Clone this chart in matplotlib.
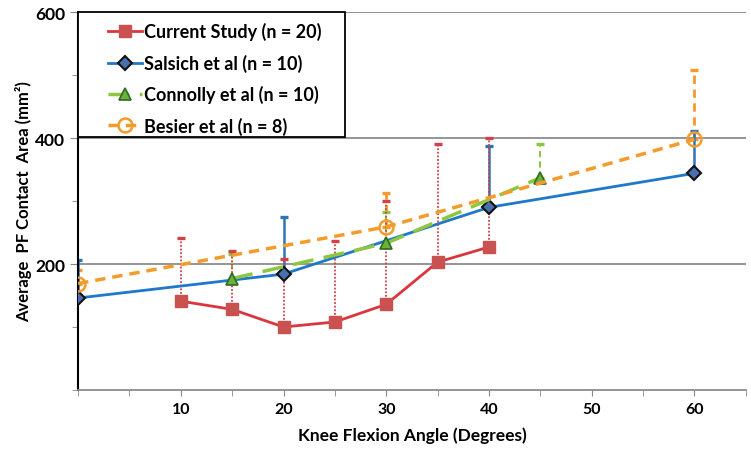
import numpy as np
import matplotlib
matplotlib.use("Agg")
import matplotlib.pyplot as plt
from matplotlib.patches import Rectangle
from matplotlib.ticker import MultipleLocator

plt.rcParams['font.family'] = ['Lato', 'DejaVu Sans']
plt.rcParams['font.weight'] = 'bold'

# ----------------------------
# Data
# ----------------------------
current_x = [10, 15, 20, 25, 30, 35, 40]
current_y = [141, 128, 100, 108, 136, 203, 227]
current_up = [242, 221, 208, 237, 300, 390, 400]

salsich_x = [0, 20, 40, 60]
salsich_y = [146, 184, 290, 344]
salsich_up = [207, 274, 388, 412]

connolly_x = [15, 30, 45]
connolly_y = [177, 233, 337]
connolly_up = [216, 283, 390]

besier_x = [0, 30, 60]
besier_y = [169, 259, 398]
besier_up = [191, 313, 508]

x_ticks = [10, 20, 30, 40, 50, 60]
y_ticks = [200, 400, 600]


def upper_bars(ax, x, y, up, color, ls, lw=1.3, z=2):
    y = np.asarray(y, float)
    err = np.asarray(up, float) - y
    eb = ax.errorbar(x, y, yerr=[np.zeros_like(err), err], fmt='none',
                     ecolor=color, elinewidth=lw, capsize=3, capthick=2.4, zorder=z)
    for lc in eb[2]:
        lc.set_linestyle(ls)
    return eb


fig = plt.figure(figsize=(7.51, 4.52), dpi=100)
ax = fig.add_axes([0.104, 0.135, 0.889, 0.836])

# error bars (upper only)
upper_bars(ax, besier_x, besier_y, besier_up, '#F39B2B', (0, (3, 2)), lw=2.0, z=2)
upper_bars(ax, connolly_x, connolly_y, connolly_up, '#8DC63F', (0, (3, 2)), lw=1.5, z=2)
upper_bars(ax, salsich_x, salsich_y, salsich_up, '#2E75B6', '-', lw=1.8, z=2)
upper_bars(ax, current_x, current_y, current_up, '#D2414A', (0, (1, 1)), lw=1.3, z=3)

# series
ax.plot(current_x, current_y, '-', color='#D9363E', lw=2.0, marker='s', ms=8,
        mfc='#C9514F', mec='#C9514F', label='Current Study (n = 20)', zorder=4)
ax.plot(salsich_x, salsich_y, '-', color='#1F78C8', lw=2.0, marker='D', ms=7,
        mfc='#4A6FB0', mec='#111111', mew=1.5, label='Salsich et al (n = 10)', zorder=5)
ax.plot(connolly_x, connolly_y, '--', dashes=(6, 3), color='#8DC63F', lw=2.5, marker='^', ms=9,
        mfc='#6BB13E', mec='#2E6B1F', mew=1.2, label='Connolly et al (n = 10)', zorder=5)
ax.plot(besier_x, besier_y, '--', dashes=(3, 2), color='#F39B2B', lw=2.5, marker='o', ms=10,
        mfc='none', mec='#F39B2B', mew=1.8, label='Besier et al (n = 8)', zorder=5)

# axes styling
ax.set_xlim(0, 65)
ax.set_ylim(0, 600)
ax.set_xticks(x_ticks)
ax.xaxis.set_minor_locator(MultipleLocator(5))
ax.set_yticks(y_ticks)
ax.yaxis.set_minor_locator(MultipleLocator(100))
ax.tick_params(axis='x', which='both', direction='out', length=4, color='#888888', labelsize=11.5, pad=5)
ax.tick_params(axis='y', which='major', direction='out', length=6, color='#888888', labelsize=12.5)
ax.tick_params(axis='y', which='minor', direction='out', length=4, color='#888888')
for lbl in ax.get_xticklabels() + ax.get_yticklabels():
    lbl.set_fontweight('bold')

ax.grid(axis='y', which='major', color='#8C8C8C', lw=1.3)
ax.set_axisbelow(True)
ax.spines['top'].set_visible(False)
ax.spines['right'].set_visible(False)
ax.spines['left'].set_color('black')
ax.spines['left'].set_linewidth(1.5)
ax.spines['bottom'].set_color('#8C8C8C')
ax.spines['bottom'].set_linewidth(1.3)

ax.set_xlabel('Knee Flexion Angle (Degrees)', fontsize=12.5, fontweight='bold', labelpad=7)
ax.set_ylabel('Average  PF Contact  Area (mm²)', fontsize=12, fontweight='bold', labelpad=2)

# legend box like the original (wide side padding)
ax.add_patch(Rectangle((0.0, 0.669), 0.40, 0.331, transform=ax.transAxes,
                       facecolor='white', edgecolor='black', lw=1.3, zorder=9, clip_on=False))
leg = ax.legend(loc='upper left', bbox_to_anchor=(0.045, 0.973), borderaxespad=0,
                frameon=False, handlelength=1.9, handletextpad=0.1, labelspacing=0.74,
                borderpad=0, prop={'weight': 'bold', 'size': 13})
leg.set_zorder(10)

fig.savefig('out.png', dpi=100)
